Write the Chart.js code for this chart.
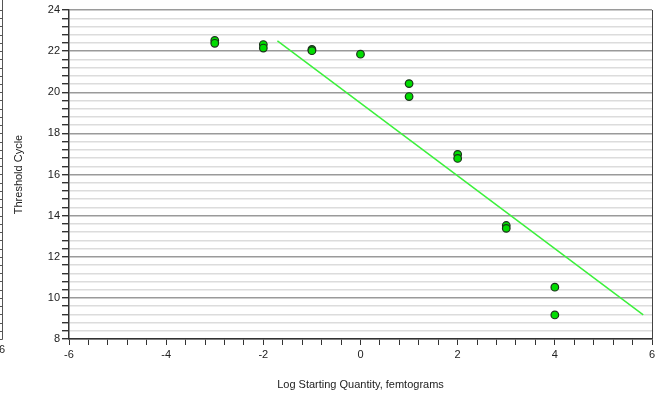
<!DOCTYPE html>
<html>
<head>
<meta charset="utf-8">
<title>Standard Curve</title>
<script src="https://cdn.jsdelivr.net/npm/chart.js@4.4.1/dist/chart.umd.min.js"></script>
<style>
  html, body { margin: 0; padding: 0; background: #fff; }
  #wrap { width: 661px; height: 396px; position: relative; }
</style>
</head>
<body>
<div id="wrap"><canvas id="curve"></canvas></div>
<script>
// ---- data ----
const logQuantity = [-3, -3, -2, -2, -1, -1, 0, 1, 1, 2, 2, 3, 3, 4, 4];
const thresholdCycle = [22.52, 22.38, 22.32, 22.15, 22.08, 22.02, 21.85, 20.42, 19.79, 16.98, 16.78, 13.52, 13.38, 10.52, 9.17];

// regression line end points
const fitX = [-1.71, 5.82];
const fitY = [22.5, 9.17];

const xTitle = 'Log Starting Quantity, femtograms';
const yTitle = 'Threshold Cycle';

const textColor = '#222';
const axisFont = { family: 'Liberation Sans', size: 11 };

const isMajor = (v) => Math.abs(v / 2 - Math.round(v / 2)) < 1e-6;

// the cut-off neighbour chart on the far left edge + right border
const edgePlugin = {
  id: 'edge',
  afterDraw(chart) {
    const ctx = chart.ctx;
    const y = chart.scales.y;
    ctx.save();
    ctx.strokeStyle = '#555';
    ctx.lineWidth = 1;
    ctx.beginPath();
    ctx.moveTo(2.5, 0);
    ctx.lineTo(2.5, y.getPixelForValue(8) + 0.5);
    for (let v = 8; v <= 24.001; v += 0.4) {
      const py = Math.round(y.getPixelForValue(v)) + 0.5;
      ctx.moveTo(0, py);
      ctx.lineTo(2.5, py);
    }
    ctx.stroke();
    ctx.fillStyle = textColor;
    ctx.font = '11px "Liberation Sans"';
    ctx.textBaseline = 'top';
    ctx.fillText('6', -1, y.getPixelForValue(8) + 5);
    const a = chart.chartArea;
    ctx.strokeStyle = '#444';
    ctx.beginPath();
    ctx.moveTo(Math.round(a.right) + 0.5, a.top);
    ctx.lineTo(Math.round(a.right) + 0.5, a.bottom);
    ctx.stroke();
    ctx.restore();
  }
};

new Chart(document.getElementById('curve'), {
  type: 'scatter',
  data: {
    datasets: [
      {
        label: 'Fit',
        type: 'line',
        data: fitX.map((x, i) => ({ x, y: fitY[i] })),
        borderColor: '#3cf03c',
        borderWidth: 1.5,
        pointRadius: 0,
        fill: false,
        order: 2
      },
      {
        label: 'Standards',
        data: logQuantity.map((x, i) => ({ x, y: thresholdCycle[i] })),
        backgroundColor: '#00dd00',
        borderColor: '#1a331a',
        borderWidth: 1.2,
        pointRadius: 3.8,
        order: 1
      }
    ]
  },
  options: {
    responsive: true,
    maintainAspectRatio: false,
    animation: false,
    layout: { padding: { top: 10, right: 9, left: 0, bottom: 0 } },
    plugins: {
      legend: { display: false },
      tooltip: { enabled: false }
    },
    scales: {
      x: {
        type: 'linear',
        min: -6,
        max: 6,
        afterFit: (s) => { s.height = 57; },
        ticks: {
          stepSize: 0.4,
          autoSkip: false,
          maxRotation: 0,
          color: textColor,
          font: axisFont,
          padding: 3,
          callback: (v) => isMajor(v) ? String(Math.round(v)) : ''
        },
        grid: {
          color: (c) => c.tick && Math.abs(c.tick.value - 6) < 1e-6 ? '#444' : 'rgba(0,0,0,0)',
          tickColor: '#333',
          tickLength: 6,
          lineWidth: 1
        },
        border: { color: '#333', width: 1.5 },
        title: {
          display: true,
          text: xTitle,
          color: textColor,
          font: axisFont,
          padding: { top: 11 }
        }
      },
      y: {
        min: 8,
        max: 24,
        afterFit: (s) => { s.width = 69; },
        ticks: {
          stepSize: 0.4,
          autoSkip: false,
          color: textColor,
          font: axisFont,
          padding: 2,
          callback: (v) => isMajor(v) ? String(Math.round(v)) : ''
        },
        grid: {
          color: (c) => c.tick && isMajor(c.tick.value) ? '#9a9a9a' : '#dcdcdc',
          lineWidth: 1.4,
          tickColor: '#333',
          tickLength: 7
        },
        border: { color: '#333', width: 1.5 },
        title: {
          display: true,
          text: yTitle,
          color: textColor,
          font: axisFont,
          padding: { top: 12, bottom: 0 }
        }
      }
    }
  },
  plugins: [edgePlugin]
});
</script>
</body>
</html>
